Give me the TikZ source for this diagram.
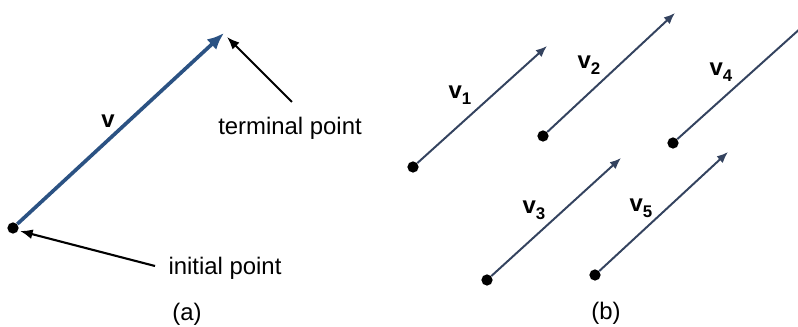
\documentclass[tikz,border=0pt]{standalone}
\usepackage{fontspec}
\setmainfont{Liberation Sans}
\usetikzlibrary{arrows.meta, positioning}
\definecolor{vecblue}{HTML}{2B5283}
\definecolor{vecnavy}{HTML}{34435F}
\newcommand{\vlab}[1]{\textbf{v}\raisebox{-0.5ex}{\fontsize{12}{12}\selectfont\textbf{#1}}}

\begin{document}
\begin{tikzpicture}[x=0.025cm, y=-0.025cm,
    pt/.style={circle, fill=black, inner sep=0pt, minimum size=8pt},
    txt/.style={font=\fontsize{17}{20}\selectfont, inner sep=1pt},
    vlbl/.style={font=\fontsize{17}{20}\selectfont, inner sep=1pt},
    bigvec/.style={vecblue, line width=2.6pt, -{Latex[length=12pt, width=10pt]}},
    smallvec/.style={vecnavy, line width=1.4pt, -{Latex[length=8pt, width=6.5pt]}},
    pointer/.style={black, line width=1.5pt, -{Latex[length=9pt, width=7pt]}}
]
    \clip (0,0) rectangle (798,327);

    % (a) a single vector
    \node[pt] (init) at (13,228) {};
    \coordinate (term) at (224,33);
    \draw[bigvec] (init) -- (term);
    \node[vlbl] (vlab) at (108,121) {\textbf{v}};

    \node[txt] (termtxt) at (290,128) {terminal point};
    \coordinate (termfoot) at (292,102);
    \draw[pointer] (termfoot) -- ([shift={(3,4)}]term);

    \node[txt] (inittxt) at (225,268) {initial point};
    \coordinate (initfoot) at (155,266);
    \draw[pointer] (initfoot) -- ([shift={(7,3)}]init.center);

    \node[txt] (capa) at (187,314) {(a)};

    % (b) equal vectors
    \foreach \n/\sx/\sy/\ex/\ey/\lx/\ly in {1/413/167/547/46/460/95,
            2/543/136/675/13/589/65, 3/487/280/621/158/534/210,
            4/673/143/812/18/721/72, 5/595/275/728/152/641/208} {
        \node[pt] (p\n) at (\sx,\sy) {};
        \coordinate (q\n) at (\ex,\ey);
        \draw[smallvec] (p\n) -- (q\n);
        \node[vlbl] (l\n) at (\lx,\ly) {\vlab{\n}};
    }

    \node[txt] (capb) at (606,313) {(b)};

\end{tikzpicture}
\end{document}
